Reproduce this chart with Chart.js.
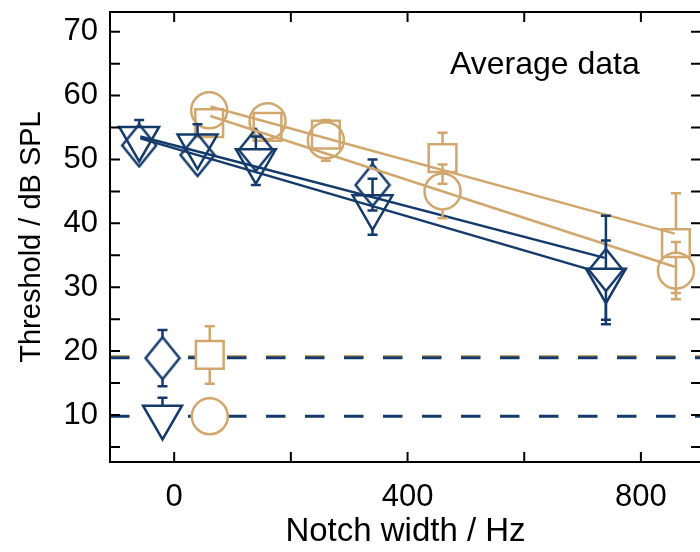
<!DOCTYPE html>
<html>
<head>
<meta charset="utf-8">
<script src="https://cdn.jsdelivr.net/npm/chart.js@4.4.0/dist/chart.umd.min.js"></script>
<style>
  html, body { margin: 0; padding: 0; background: #fff; overflow: hidden; }
  #wrap { width: 704px; height: 552px; }
</style>
</head>
<body>
<div id="wrap"><canvas id="c" width="704" height="552"></canvas></div>
<script>
// notch widths as plotted (each group shifted sideways)
const xBlue = [-60, 40, 140, 340, 740];
const xTan = [60, 160, 260, 460, 860];

const diamondVals = [52.2, 50.7, 51.5, 46.0, 32.7];
const diamondErr = [0, 0, 0, 4.0, 8.5];
const triangleVals = [53.3, 52.1, 49.8, 42.6, 31.1];
const triangleErr = [2.9, 3.4, 3.8, 4.4, 6.2];
const squareVals = [55.7, 55.1, 53.9, 50.2, 36.9];
const squareErr = [0, 0, 0, 4.0, 7.8];
const circleVals = [57.7, 56.0, 53.0, 45.0, 32.6];
const circleErr = [0, 0, 3.2, 4.2, 4.5];

// fitted lines, [start, end]
const fitBlueAX = [-58, 738], fitBlueAY = [53.6, 34.6];
const fitBlueBX = [-58, 711], fitBlueBY = [53.3, 32.8];
const fitTanAX = [62, 858], fitTanAY = [58.3, 38.4];
const fitTanBX = [62, 858], fitTanBY = [56.8, 33.2];

// quiet thresholds (bottom markers + dashed lines)
const quietX = [-20, 61];
const quietDiamond = 18.9, quietDiamondErr = 4.4;
const quietSquare = 19.4, quietSquareErr = 4.5;
const quietTriangle = 9.7, quietTriangleErr = 3.0;
const quietCircle = 9.8, quietCircleErr = 2.8;
const dashNavy = [18.95, 9.8];
const dashTan = [19.15];

// axes
const xRange = [-110, 903];
const yRange = [2.64, 73.09];
const xTickVals = [0, 200, 400, 600, 800];
const xLabelVals = [0, 400, 800];
const yTickVals = [5, 10, 15, 20, 25, 30, 35, 40, 45, 50, 55, 60, 65, 70];
const yLabelVals = [10, 20, 30, 40, 50, 60, 70];

const navy = '#143a6b';
const tan = '#d1a76d';
const fontFam = '"Liberation Sans", Arial, sans-serif';

function diamondImg(color, fill) {
  const w = 38, h = 46;
  const c = document.createElement('canvas');
  c.width = w; c.height = h;
  const g = c.getContext('2d');
  g.lineWidth = 2.5;
  g.strokeStyle = color;
  g.beginPath();
  g.moveTo(w / 2, 2);
  g.lineTo(w - 2, h / 2);
  g.lineTo(w / 2, h - 2);
  g.lineTo(2, h / 2);
  g.closePath();
  if (fill) { g.fillStyle = fill; g.fill(); }
  g.stroke();
  return c;
}

function pts(xs, ys) {
  return xs.map((x, i) => ({ x: x, y: ys[i] }));
}

function markers(xs, ys, errs, color, style, extra) {
  return Object.assign({
    data: pts(xs, ys),
    errors: errs,
    showLine: false,
    borderColor: color,
    backgroundColor: 'rgba(0,0,0,0)',
    borderWidth: 2.5,
    pointStyle: style
  }, extra);
}

function fitLine(xs, ys, color, dash, width) {
  return {
    data: pts(xs, ys),
    showLine: true,
    borderColor: color,
    borderWidth: width || 2.5,
    borderDash: dash || [],
    pointRadius: 0,
    pointHoverRadius: 0
  };
}

const datasets = [
  // quiet thresholds, drawn on top with white fill
  markers([quietX[0]], [quietDiamond], [quietDiamondErr], navy, diamondImg(navy, '#fff'), { markUp: 21, markDown: 21 }),
  markers([quietX[1]], [quietSquare], [quietSquareErr], tan, 'rect', { pointRadius: 19.6, backgroundColor: '#fff', markUp: 14, markDown: 14 }),
  markers([quietX[0]], [quietTriangle], [quietTriangleErr], navy, 'triangle', { pointRadius: 22.5, rotation: 180, backgroundColor: '#fff', markUp: 11, markDown: 22.5 }),
  markers([quietX[1]], [quietCircle], [quietCircleErr], tan, 'circle', { pointRadius: 18, backgroundColor: '#fff', markUp: 18, markDown: 18 }),
  fitLine(xRange, [dashNavy[0], dashNavy[0]], navy, [19.5, 19.5], 3),
  fitLine(xRange, [dashNavy[1], dashNavy[1]], navy, [19.5, 19.5], 3),
  fitLine(xRange, [dashTan[0], dashTan[0]], tan, [19.5, 19.5], 3),
  // fits
  fitLine(fitBlueAX, fitBlueAY, navy),
  fitLine(fitBlueBX, fitBlueBY, navy),
  fitLine(fitTanAX, fitTanAY, tan),
  fitLine(fitTanBX, fitTanBY, tan),
  // data
  markers(xBlue, diamondVals, diamondErr, navy, diamondImg(navy, null), { markUp: 21, markDown: 21 }),
  markers(xBlue, triangleVals, triangleErr, navy, 'triangle', { pointRadius: 23, rotation: 180, markUp: 11.5, markDown: 23 }),
  markers(xTan, squareVals, squareErr, tan, 'rect', { pointRadius: 19.6, markUp: 14, markDown: 14 }),
  markers(xTan, circleVals, circleErr, tan, 'circle', { pointRadius: 18, markUp: 18, markDown: 18 })
];

// error bars, drawn outside each marker only
const errorBars = {
  id: 'errorBars',
  afterDatasetsDraw(chart) {
    const ctx = chart.ctx;
    const ys = chart.scales.y;
    chart.data.datasets.forEach((ds, i) => {
      if (!ds.errors) return;
      const meta = chart.getDatasetMeta(i);
      ctx.save();
      ctx.strokeStyle = ds.borderColor;
      ctx.lineWidth = 2.5;
      meta.data.forEach((pt, j) => {
        const e = ds.errors[j];
        if (!e) return;
        const v = ds.data[j].y;
        const top = ys.getPixelForValue(v + e);
        const bot = ys.getPixelForValue(v - e);
        const up = pt.y - ds.markUp;
        const dn = pt.y + ds.markDown;
        ctx.beginPath();
        if (top < up) {
          ctx.moveTo(pt.x, up); ctx.lineTo(pt.x, top);
          ctx.moveTo(pt.x - 5, top); ctx.lineTo(pt.x + 5, top);
        }
        if (bot > dn) {
          ctx.moveTo(pt.x, dn); ctx.lineTo(pt.x, bot);
          ctx.moveTo(pt.x - 5, bot); ctx.lineTo(pt.x + 5, bot);
        }
        ctx.stroke();
      });
      ctx.restore();
    });
  }
};

// box frame with inward ticks + text label
const frame = {
  id: 'frame',
  afterDraw(chart) {
    const ctx = chart.ctx;
    const a = chart.chartArea;
    const xs = chart.scales.x, ys = chart.scales.y;
    ctx.save();
    ctx.strokeStyle = '#000';
    ctx.lineWidth = 2;
    ctx.strokeRect(a.left, a.top, a.right - a.left, a.bottom - a.top);
    ctx.beginPath();
    xTickVals.forEach(v => {
      const px = xs.getPixelForValue(v);
      ctx.moveTo(px, a.bottom); ctx.lineTo(px, a.bottom - 10);
      ctx.moveTo(px, a.top); ctx.lineTo(px, a.top + 10);
    });
    yTickVals.forEach(v => {
      const py = ys.getPixelForValue(v);
      ctx.moveTo(a.left, py); ctx.lineTo(a.left + 10, py);
      ctx.moveTo(a.right, py); ctx.lineTo(a.right - 10, py);
    });
    ctx.stroke();
    ctx.fillStyle = '#000';
    ctx.font = '32px ' + fontFam;
    ctx.textBaseline = 'alphabetic';
    ctx.fillText('Average data', 450, 74);
    ctx.restore();
  }
};

function noPad(s) {
  s.paddingTop = 0; s.paddingBottom = 0; s.paddingLeft = 0; s.paddingRight = 0;
}

new Chart(document.getElementById('c'), {
  type: 'scatter',
  data: { datasets: datasets },
  options: {
    responsive: false,
    animation: false,
    layout: { autoPadding: false, padding: { top: 12, right: 3, left: 0, bottom: 0 } },
    plugins: { legend: { display: false }, tooltip: { enabled: false } },
    scales: {
      x: {
        type: 'linear',
        min: xRange[0],
        max: xRange[1],
        afterBuildTicks: s => { s.ticks = xLabelVals.map(v => ({ value: v })); },
        ticks: { color: '#000', font: { family: fontFam, size: 31 }, padding: 17, maxRotation: 0, autoSkip: false },
        grid: { display: false, drawTicks: false },
        border: { display: false },
        title: { display: true, text: 'Notch width / Hz', color: '#000', font: { family: fontFam, size: 33 }, padding: { top: 0, bottom: 0 } },
        afterFit: s => { s.height = 90; noPad(s); }
      },
      y: {
        type: 'linear',
        min: yRange[0],
        max: yRange[1],
        afterBuildTicks: s => { s.ticks = yLabelVals.map(v => ({ value: v })); },
        ticks: { color: '#000', font: { family: fontFam, size: 31 }, padding: 12 },
        grid: { display: false, drawTicks: false },
        border: { display: false },
        title: { display: true, text: 'Threshold / dB SPL', color: '#000', font: { family: fontFam, size: 29 }, padding: { top: 15, bottom: 0 } },
        afterFit: s => { s.width = 110; noPad(s); }
      }
    }
  },
  plugins: [errorBars, frame]
});
</script>
</body>
</html>
